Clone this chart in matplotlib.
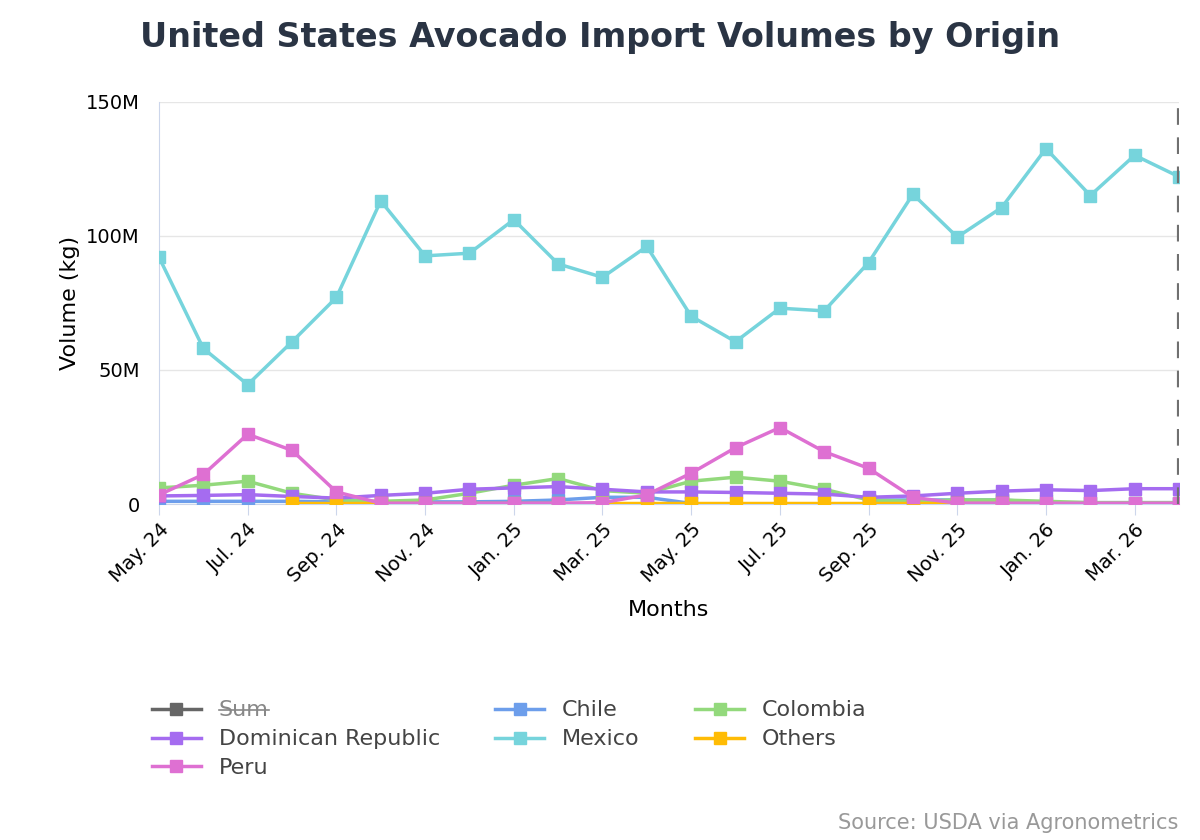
import matplotlib.pyplot as plt
import numpy as np

# data (millions of kg)
months = ["May. 24", "Jun. 24", "Jul. 24", "Aug. 24", "Sep. 24", "Oct. 24", "Nov. 24", "Dec. 24",
          "Jan. 25", "Feb. 25", "Mar. 25", "Apr. 25", "May. 25", "Jun. 25", "Jul. 25", "Aug. 25",
          "Sep. 25", "Oct. 25", "Nov. 25", "Dec. 25", "Jan. 26", "Feb. 26", "Mar. 26", "Apr. 26"]
mexico = [92, 58, 44.5, 60.5, 77, 113, 92.5, 93.5, 106, 89.5, 84.5, 96,
          70, 60.5, 73, 72, 90, 115.5, 99.5, 110.5, 132.5, 115, 130, 122]
peru = [3.4, 11, 26, 20, 4.5, 0.3, 0.3, 0.3, 0.3, 0.3, 0.5, 3.4,
        11.5, 21, 28.5, 19.5, 13.3, 2.5, 0.3, 0.3, 0.3, 0.3, 0.3, 0.3]
colombia = [6, 7, 8.5, 4, 1.5, 1, 1.5, 4, 7, 9.5, 5, 4,
            8.5, 10, 8.5, 5.5, 1.5, 1, 1.5, 1.5, 1, 0.5, 0.5, 0.5]
dominican = [3, 3.2, 3.5, 2.8, 2.2, 3.2, 4, 5.5, 6, 6.5, 5.5, 4.5,
             4.5, 4.3, 4, 3.7, 2.5, 3, 4, 4.8, 5.3, 5, 5.7, 5.7]
chile = [1, 1, 1, 1, 0.8, 0.8, 0.8, 0.8, 1, 1.5, 2.5, 2.5,
         0.2, np.nan, np.nan, np.nan, 1.5, 1.5, 1.5, 1.5, 0.5, 0.5, 0.5, 0.5]
others = [np.nan, np.nan, np.nan, 0.5, 0.5, 0.5, 0.5, 0.5, 0.5, 0.5, 0.5, 0.5,
          0.5, 0.5, 0.5, 0.5, 0.5, 0.5, 0.5, 0.5, np.nan, np.nan, np.nan, np.nan]

series = [("Chile", chile, "#6d9eeb"), ("Colombia", colombia, "#93d97c"),
          ("Dominican Republic", dominican, "#a56cf0"), ("Mexico", mexico, "#76d4dc"),
          ("Others", others, "#ffbc05"), ("Peru", peru, "#de70d2")]

fig = plt.figure(figsize=(12, 8.4), dpi=100)
ax = fig.add_axes([0.1325, 0.4, 0.85, 0.479])
x = np.arange(len(months))

lines = {}
for name, vals, col in series:
    lines[name], = ax.plot(x, vals, color=col, lw=2.5, marker="s", ms=9, label=name, zorder=3)

ax.axvline(x[-1], color="#707070", lw=3, ls=(0, (4, 3)), zorder=4)
ax.set_xlim(0, len(months) - 1)
ax.set_ylim(0, 150)
ax.set_yticks([0, 50, 100, 150])
ax.set_yticklabels(["0", "50M", "100M", "150M"], fontsize=14)
ax.set_xticks(x[::2])
ax.set_xticklabels(months[::2], rotation=45, ha="right", rotation_mode="anchor", fontsize=14)
ax.grid(axis="y", color="#e6e6e6", lw=1)
ax.set_axisbelow(True)
for s in ["top", "right"]:
    ax.spines[s].set_visible(False)
ax.spines["left"].set_color("#ccd6eb")
ax.spines["bottom"].set_color("#ccd6eb")
ax.tick_params(axis="y", length=0, pad=14)
ax.tick_params(axis="x", color="#ccd6eb", length=8)
ax.set_xlabel("Months", fontsize=16, labelpad=10)
ax.set_ylabel("Volume (kg)", fontsize=16)

fig.suptitle("United States Avocado Import Volumes by Origin", fontsize=24, fontweight="heavy",
             color="#2a3444", x=0.5, y=0.975)

# legend with Sum hidden (row-major order via column fill)
sum_h, = ax.plot([], [], color="#666666", lw=2.5, marker="s", ms=9, label="Sum")
order = [sum_h, lines["Dominican Republic"], lines["Peru"], lines["Chile"], lines["Mexico"],
         lines["Colombia"], lines["Others"]]
leg = fig.legend(handles=order, loc="upper left", bbox_to_anchor=(0.11, 0.19), ncol=3,
                 frameon=False, fontsize=16, columnspacing=2.5, handlelength=2.2,
                 labelspacing=0.4)
for t in leg.get_texts():
    t.set_color("#444444")
leg.get_texts()[0].set_color("#888888")
fig.canvas.draw()
bb = leg.get_texts()[0].get_window_extent().transformed(fig.transFigure.inverted())
ymid = (bb.y0 + bb.y1) / 2
fig.add_artist(plt.Line2D([bb.x0, bb.x1], [ymid, ymid], color="#888888", lw=1.2,
                          transform=fig.transFigure))

fig.text(0.982, 0.008, "Source: USDA via Agronometrics", ha="right", va="bottom",
         fontsize=15, color="#999999")
fig.savefig("out.png")
